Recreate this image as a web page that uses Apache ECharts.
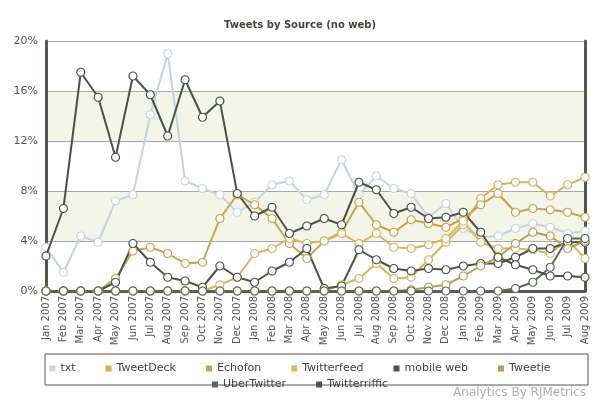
<!DOCTYPE html>
<html>
<head>
    <meta charset="UTF-8">
    <title>Tweets by Source</title>
    <script type="text/javascript" src="https://cdn.jsdelivr.net/npm/echarts@6/dist/echarts.min.js"></script>
</head>
<body style="margin: 0;padding: 0;">
    <div id="container" style="width:600px; height:403px;"></div>
    <script>
        var months = ['Jan 2007','Feb 2007','Mar 2007','Apr 2007','May 2007','Jun 2007','Jul 2007','Aug 2007','Sep 2007','Oct 2007','Nov 2007','Dec 2007',
            'Jan 2008','Feb 2008','Mar 2008','Apr 2008','May 2008','Jun 2008','Jul 2008','Aug 2008','Sep 2008','Oct 2008','Nov 2008','Dec 2008',
            'Jan 2009','Feb 2009','Mar 2009','Apr 2009','May 2009','Jun 2009','Jul 2009','Aug 2009'];

        var txt = [3.5,1.5,4.4,3.9,7.2,7.7,14.1,19.0,8.8,8.2,7.7,6.3,7.1,8.5,8.8,7.3,7.7,10.5,7.7,9.2,8.2,7.8,5.9,7.0,5.0,4.3,4.4,5.0,5.4,5.1,4.6,4.8];
        var tweetDeck = [0,0,0,0,0,0,0,0,0,0,0,0,0,0,0,0,0,0.5,1.0,2.2,1.0,1.1,2.5,3.9,5.3,7.4,8.5,8.7,8.7,7.6,8.5,9.1];
        var echofon = [0,0,0,0,1.0,3.2,3.5,3.0,2.2,2.3,5.8,7.7,6.9,5.8,3.8,2.6,4.0,4.7,7.1,5.3,4.7,5.7,5.4,5.1,5.8,6.9,7.8,6.3,6.6,6.5,6.3,5.9];
        var twitterfeed = [0,0,0,0,0,0,0,0,0,0,0.5,1.1,3.0,3.4,4.2,3.8,4.0,4.6,3.8,4.6,3.5,3.4,3.7,4.2,5.6,3.9,3.4,3.4,3.3,3.0,4.1,2.6];
        var mobileWeb = [0,0,0,0,0.7,3.8,2.3,1.1,0.8,0.3,2.0,1.1,0.7,1.6,2.3,3.4,0.2,0.4,3.3,2.5,1.8,1.6,1.8,1.7,2.0,2.2,2.2,2.7,3.4,3.4,3.9,3.9];
        var tweetie = [0,0,0,0,0,0,0,0,0,0,0,0,0,0,0,0,0,0,0,0,0,0.1,0.3,0.5,1.2,2.0,2.7,3.8,4.7,4.4,3.4,4.0];
        var uberTwitter = [0,0,0,0,0,0,0,0,0,0,0,0,0,0,0,0,0,0,0,0,0,0,0,0,0,0,0,0.2,0.7,1.9,4.2,4.2];
        var twitterriffic = [2.8,6.6,17.5,15.5,10.7,17.2,15.7,12.4,16.9,13.9,15.2,7.8,6.0,6.7,4.6,5.2,5.8,5.3,8.7,8.1,6.2,6.7,5.8,5.9,6.3,4.7,2.7,2.1,1.7,1.2,1.2,1.1];

        var names = ['txt','TweetDeck','Echofon','Twitterfeed','mobile web','Tweetie','UberTwitter','Twitterriffic'];
        var values = [txt, tweetDeck, echofon, twitterfeed, mobileWeb, tweetie, uberTwitter, twitterriffic];
        var colors = ['#c9d3dc','#d8b15c','#c9a24c','#dcb460','#4b554a','#b89d5c','#5d665a','#4a5347'];

        var chart = echarts.init(document.getElementById('container'), null, { renderer: 'canvas' });

        var series = names.map(function (n, i) {
            return {
                name: n,
                type: 'line',
                data: values[i],
                symbol: 'circle',
                symbolSize: 8,
                z: i === 0 ? 1 : 2,
                lineStyle: { width: 2, color: colors[i] },
                itemStyle: { color: '#fff', borderColor: colors[i], borderWidth: 1.2 }
            };
        });

        function legendItems(list) {
            return list.map(function (n) {
                var c = colors[names.indexOf(n)];
                return { name: n, icon: 'rect', itemStyle: { color: c, borderWidth: 0 } };
            });
        }

        var legendText = { color: '#444', fontSize: 11, fontFamily: 'DejaVu Sans' };
        var legendBase = {
            left: 'center',
            itemWidth: 6,
            itemHeight: 6,
            itemGap: 30,
            lineStyle: { width: 0, opacity: 0 },
            textStyle: legendText
        };
        var option = {
            animation: false,
            backgroundColor: '#fff',
            color: colors,
            title: {
                text: 'Tweets by Source (no web)',
                left: 'center',
                top: 15,
                textStyle: { fontSize: 10, fontWeight: 'bold', color: '#3f473d', fontFamily: 'DejaVu Sans' }
            },
            legend: [
                Object.assign({ data: legendItems(names.slice(0, 6)), top: 358 }, legendBase),
                Object.assign({ data: legendItems(names.slice(6)), top: 374 }, legendBase)
            ],
            grid: { left: 46, right: 15, top: 41, bottom: 112 },
            xAxis: {
                type: 'category',
                boundaryGap: false,
                data: months,
                axisLine: { lineStyle: { color: '#525a50', width: 3 } },
                axisTick: { show: false },
                axisLabel: { rotate: 90, fontSize: 10, color: '#555', fontFamily: 'DejaVu Sans', interval: 0, margin: 5 }
            },
            yAxis: [{
                type: 'value',
                min: 0,
                max: 20,
                interval: 4,
                axisLine: { show: true, lineStyle: { color: '#525a50', width: 3 } },
                axisTick: { show: false },
                axisLabel: { formatter: '{value}%', fontSize: 11, color: '#555', fontFamily: 'DejaVu Sans' },
                splitLine: { lineStyle: { color: '#a8a8a8' } },
                splitArea: { show: true, areaStyle: { color: ['#ffffff', '#f3f5e9'] } }
            }, {
                type: 'value',
                min: 0,
                max: 20,
                position: 'right',
                axisLine: { show: true, lineStyle: { color: '#525a50', width: 3 } },
                axisTick: { show: false },
                axisLabel: { show: false },
                splitLine: { show: false }
            }],
            graphic: [{
                type: 'rect',
                shape: { x: 45, y: 354, width: 543, height: 31 },
                style: { fill: 'none', stroke: '#555', lineWidth: 1 },
                silent: true
            }, {
                type: 'text',
                right: 14,
                top: 387,
                style: { text: 'Analytics By RJMetrics', fill: '#b0b0b0', fontSize: 12, fontFamily: 'DejaVu Sans' }
            }],
            series: series
        };
        chart.setOption(option);
    </script>
</body>
</html>
